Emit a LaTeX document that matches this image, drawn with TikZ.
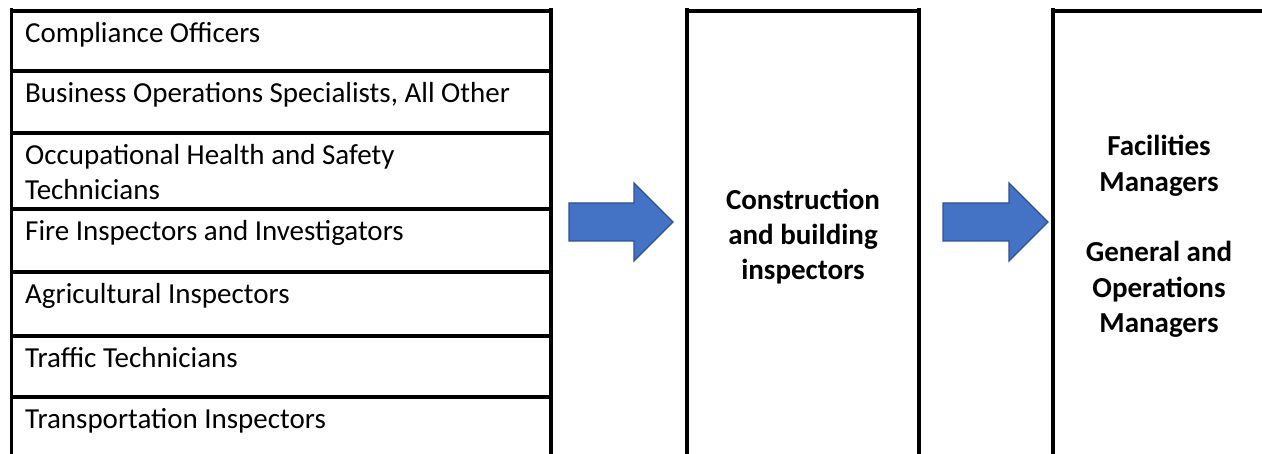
\documentclass[tikz,border=0pt]{standalone}
\usepackage{fontspec}
\setmainfont{Carlito}
\definecolor{arrowblue}{HTML}{4472C4}
\definecolor{arrowedge}{HTML}{2F528F}
\begin{document}
\begin{tikzpicture}[x=1pt,y=-1pt,
  frame/.style={line width=3.6pt, black},
  item/.style={anchor=north west, inner sep=0pt, align=left, font=\fontsize{29}{35.4}\selectfont},
  bigtext/.style={inner sep=0pt, align=center, font=\fontsize{29}{35.4}\selectfont\bfseries},
  bluearrow/.style={fill=arrowblue, draw=arrowedge, line width=1.3pt, line join=miter}]
\useasboundingbox (0,0) rectangle (1262,454);
\clip (0,0) rectangle (1262,454);
% left column frame
\draw[frame] (11.5,8) -- (11.5,460);
\draw[frame] (551,8) -- (551,460);
\foreach \yy in {11,71,133,209,272,336,397}
  \draw[frame] (11.5,\yy) -- (551,\yy);
% middle column frame
\draw[frame] (687,8) -- (687,460);
\draw[frame] (919,8) -- (919,460);
\draw[frame] (687,11) -- (919,11);
% right column frame
\draw[frame] (1053,8) -- (1053,460);
\draw[frame] (1053,11) -- (1270,11);
% left items
\node[item] (i1) at (25,17.2) {\strut Compliance Officers};
\node[item] (i2) at (25,77.2) {\strut Business Operations Specialists, All Other};
\node[item] (i3) at (25,139.2) {\strut Occupational Health and Safety\\Technicians};
\node[item] (i4) at (25,215.2) {\strut Fire Inspectors and Investigators};
\node[item] (i5) at (25,278.2) {\strut Agricultural Inspectors};
\node[item] (i6) at (25,342.2) {\strut Traffic Technicians};
\node[item] (i7) at (25,403.2) {\strut Transportation Inspectors};
% middle and right texts
\node[bigtext] (mid) at (803,236.5) {Construction\\and building\\inspectors};
\node[bigtext] (out) at (1159,236.5) {Facilities\\Managers\\\mbox{}\\General and\\Operations\\Managers};
% arrows
\draw[bluearrow] (569,203) -- (634,203) -- (634,183) -- (673,222) -- (634,261) -- (634,241) -- (569,241) -- cycle;
\draw[bluearrow] (943,203) -- (1009,203) -- (1009,183) -- (1048,222) -- (1009,261) -- (1009,241) -- (943,241) -- cycle;
\end{tikzpicture}
\end{document}
